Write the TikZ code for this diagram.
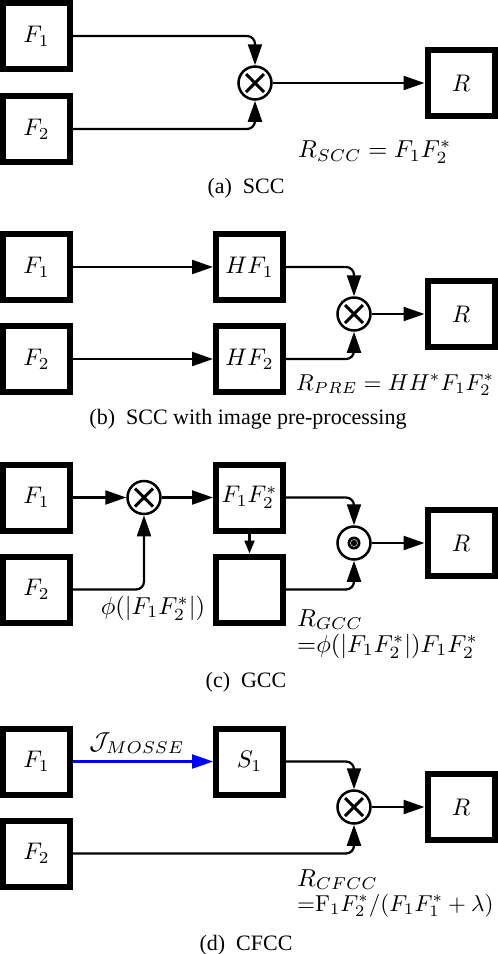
\documentclass[tikz,border=0pt]{standalone}
\usepackage{amsmath}
\usepackage{amssymb}
\usepackage{graphicx}
\usepackage{fontspec}
\newfontfamily\capfont{Liberation Serif}
\usepackage{tikz}
\usetikzlibrary{arrows.meta, positioning, calc}

% scaled math, so the small design sizes of the figure show
\newcommand{\bx}[1]{\scalebox{2.4}{$#1$}}
\newcommand{\lb}[2][2.45]{\scalebox{#1}{$#2$}}

\tikzset{
  box/.style={draw, line width=6pt, minimum width=67pt, minimum height=66pt, inner sep=0pt,
    font=\fontsize{10}{12}\selectfont},
  op/.style={draw, circle, line width=2.5pt, minimum size=33pt, inner sep=0pt},
  times/.style={op, path picture={
    \draw[line width=3pt] (path picture bounding box.center) +(-9pt,-9pt) -- +(9pt,9pt)
      +(-9pt,9pt) -- +(9pt,-9pt);}},
  hadamard/.style={op, path picture={
    \fill (path picture bounding box.center) circle (6.5pt);
    \draw[gray!60, line width=0.7pt] (path picture bounding box.center) circle (3.5pt);}},
  arr/.style={line width=2.2pt, rounded corners=8pt, -{Triangle[length=21pt,width=14pt]}},
  lbl/.style={inner sep=0pt, font=\fontsize{10}{12}\selectfont},
  captext/.style={font=\capfont\fontsize{22}{26}\selectfont},
}

\begin{document}
\begin{tikzpicture}[x=1pt, y=-1pt]
  \useasboundingbox (0,0) rectangle (498,954);

  % --- (a) SCC ---
  \node[box] (f1a) at (36.5,36) {\bx{F_1}};
  \node[box] (f2a) at (36.5,129) {\bx{F_2}};
  \node[times] (mula) at (255,83) {};
  \node[box] (ra) at (461,83) {\bx{R}};
  \node[lbl, anchor=west] (rsa) at (298,152) {\lb{R_{SCC} = F_1F_2^*}};
  \node[captext] (capa) at (246,188) {(a)~~SCC};

  \draw[arr] (f1a.east) -| (mula.north);
  \draw[arr] (f2a.east) -| (mula.south);
  \draw[arr] (mula) -- (ra);

  % --- (b) SCC with pre-processing ---
  \node[box] (f1b) at (36.5,267) {\bx{F_1}};
  \node[box] (f2b) at (36.5,359) {\bx{F_2}};
  \node[box] (hf1) at (249.5,267) {\bx{HF_1}};
  \node[box] (hf2) at (249.5,359) {\bx{HF_2}};
  \node[times] (mulb) at (354,314) {};
  \node[box] (rb) at (461,314) {\bx{R}};
  \node[lbl, anchor=west] (rsb) at (296,385) {\lb[2.3]{R_{PRE} = HH^*F_1F_2^*}};
  \node[captext] (capb) at (248,419) {(b)~~SCC with image pre-processing};

  \draw[arr] (f1b) -- (hf1);
  \draw[arr] (f2b) -- (hf2);
  \draw[arr] (hf1.east) -| (mulb.north);
  \draw[arr] (hf2.east) -| (mulb.south);
  \draw[arr] (mulb) -- (rb);

  % --- (c) GCC ---
  \node[box] (f1c) at (36.5,497.5) {\bx{F_1}};
  \node[box] (f2c) at (36.5,589.5) {\bx{F_2}};
  \node[times] (mulc) at (144,497.5) {};
  \node[box] (prod) at (249.5,497.5) {\bx{F_1F_2^*}};
  \node[box] (gbox) at (249.5,589.5) {};
  \node[hadamard] (dotc) at (354,543) {};
  \node[box] (rc) at (461,543) {\bx{R}};
  \node[lbl] (phic) at (153,608) {\lb{\phi(|F_1F_2^*|)}};
  \node[lbl, anchor=base west] (rsc) at (297,626) {\lb{R_{GCC}}};
  \node[lbl, anchor=base west] (rsc2) at (297,652) {\lb{{=}\phi(|F_1F_2^*|)F_1F_2^*}};
  \node[captext] (capc) at (246,682) {(c)~~GCC};

  \draw[arr] (f1c) -- (mulc);
  \draw[arr] (f2c.east) -| (mulc.south);
  \draw[arr] (mulc) -- (prod);
  \draw[line width=2.2pt, -{Triangle[length=13pt,width=10pt]}] (prod) -- (gbox);
  \draw[arr] (prod.east) -| (dotc.north);
  \draw[arr] (gbox.east) -| (dotc.south);
  \draw[arr] (dotc) -- (rc);

  % --- (d) CFCC ---
  \node[box] (f1d) at (36.5,761.5) {\bx{F_1}};
  \node[box] (f2d) at (36.5,853.5) {\bx{F_2}};
  \node[box] (s1) at (249.5,761.5) {\bx{S_1}};
  \node[times] (muld) at (354,807) {};
  \node[box] (rd) at (461,807) {\bx{R}};
  \node[lbl] (jm) at (137,743) {\lb{\mathcal{J}_{MOSSE}}};
  \node[lbl, anchor=base west] (rsd) at (297,886) {\lb{R_{CFCC}}};
  \node[lbl, anchor=base west] (rsd2) at (297,911) {\lb[2.3]{{=}\mathrm{F}_1F_2^*/(F_1F_1^*+\lambda)}};
  \node[captext] (capd) at (246,945) {(d)~~CFCC};

  \draw[arr, blue] (f1d) -- (s1);
  \draw[arr] (s1.east) -| (muld.north);
  \draw[arr] (f2d.east) -| (muld.south);
  \draw[arr] (muld) -- (rd);

\end{tikzpicture}
\end{document}
